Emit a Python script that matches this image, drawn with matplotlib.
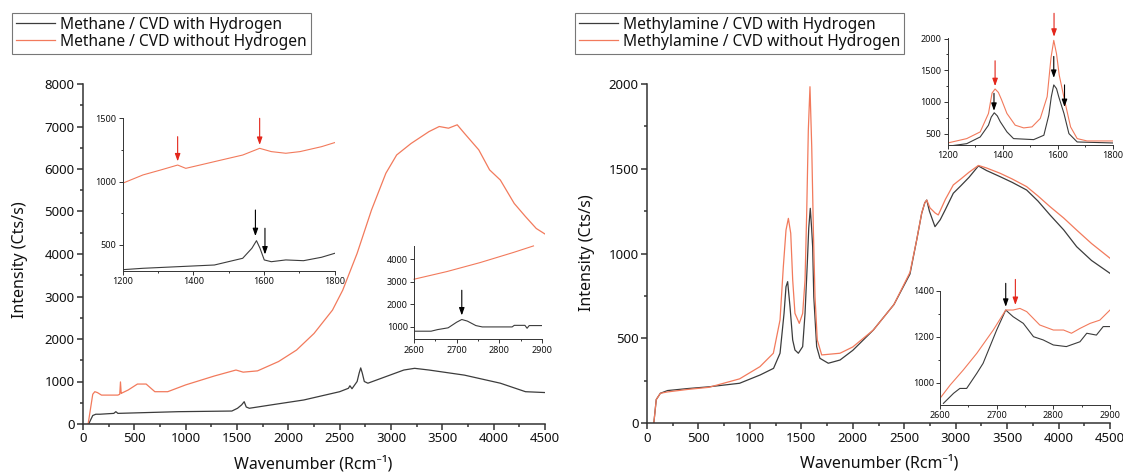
import matplotlib
matplotlib.use("Agg")
import matplotlib.pyplot as plt
from matplotlib.ticker import MultipleLocator

plt.rcParams["font.family"] = ["Noto Sans", "DejaVu Sans"]

BLACK = "#3c3c3c"
ORANGE = "#f27a5c"
RED = "#e3261b"
AXIS = "#333333"
TEXT = "#111111"

# ---- Methane, full spectrum ----
ch4_h_x = [55, 95, 125, 165, 300, 320, 340, 930, 1450, 1505, 1545, 1570, 1590, 1620,
           1835, 2150, 2500, 2585, 2600, 2620, 2670, 2690, 2705, 2720, 2740, 2775,
           2950, 3125, 3230, 3370, 3715, 4065, 4310, 4500]
ch4_h_y = [0, 200, 230, 230, 250, 290, 250, 290, 305, 370, 450, 525, 400, 370,
           450, 565, 760, 840, 900, 830, 1000, 1200, 1320, 1200, 1000, 960,
           1115, 1270, 1310, 1270, 1150, 960, 760, 740]
ch4_n_x = [50, 95, 115, 140, 180, 340, 358, 365, 372, 380, 440, 530, 615, 700, 825,
           1000, 1280, 1490, 1560, 1700, 1905, 2080, 2250, 2430, 2530, 2670, 2810,
           2950, 3055, 3195, 3370, 3470, 3560, 3645, 3715, 3855, 3960, 4065, 4200,
           4310, 4415, 4500]
ch4_n_y = [0, 700, 760, 740, 680, 680, 700, 990, 720, 730, 800, 940, 940, 760, 760,
           920, 1130, 1270, 1220, 1250, 1470, 1740, 2130, 2680, 3150, 4015, 5035,
           5900, 6330, 6600, 6880, 7000, 6960, 7040, 6840, 6450, 5980, 5740, 5190,
           4880, 4600, 4470]

# Methane insets (1200-1800 and 2600-2900)
ch4_i1_h_x = [1200, 1258, 1359, 1460, 1540, 1566, 1579, 1589, 1601, 1621, 1662, 1712, 1763, 1800]
ch4_i1_h_y = [305, 316, 329, 342, 395, 474, 534, 474, 382, 368, 382, 376, 403, 434]
ch4_i1_n_x = [1200, 1258, 1308, 1356, 1379, 1419, 1480, 1540, 1588, 1621, 1662, 1702, 1763, 1800]
ch4_i1_n_y = [987, 1053, 1092, 1131, 1105, 1131, 1171, 1210, 1263, 1237, 1224, 1237, 1276, 1308]
ch4_i2_h_x = [2600, 2640, 2655, 2680, 2700, 2712, 2725, 2745, 2760, 2830, 2835, 2860, 2865, 2870, 2900]
ch4_i2_h_y = [800, 800, 870, 950, 1200, 1320, 1250, 1050, 990, 990, 1060, 1060, 930, 1050, 1050]
ch4_i2_n_x = [2600, 2677, 2755, 2833, 2880]
ch4_i2_n_y = [3110, 3450, 3850, 4300, 4590]

# ---- Methylamine, full spectrum ----
mea_h_x = [66, 90, 130, 200, 400, 600, 900, 1100, 1230, 1293, 1332, 1351, 1367, 1390,
           1416, 1438, 1471, 1513, 1536, 1558, 1572, 1587, 1600, 1610, 1621, 1649,
           1681, 1762, 1876, 2000, 2200, 2400, 2556, 2621, 2670, 2700, 2719, 2745,
           2799, 2850, 2900, 2977, 3050, 3130, 3221, 3300, 3431, 3550, 3690, 3800,
           3917, 4050, 4176, 4320, 4500]
mea_h_y = [0, 140, 177, 193, 205, 215, 236, 285, 324, 413, 648, 805, 835, 687,
           491, 432, 413, 452, 648, 943, 1150, 1267, 1150, 1041, 746, 452,
           383, 354, 373, 430, 550, 700, 880, 1080, 1238, 1300, 1316, 1250,
           1159, 1200, 1260, 1356, 1400, 1450, 1517, 1490, 1454, 1420, 1375, 1310,
           1228, 1140, 1041, 960, 884]
mea_n_x = [66, 90, 130, 200, 400, 600, 900, 1098, 1228, 1293, 1325, 1351, 1374, 1397,
           1416, 1438, 1480, 1513, 1536, 1552, 1568, 1584, 1601, 1617, 1633, 1655,
           1698, 1876, 2000, 2200, 2400, 2556, 2621, 2670, 2700, 2719, 2750, 2800,
           2831, 2900, 2977, 3050, 3130, 3221, 3300, 3431, 3550, 3690, 3800, 3917,
           4050, 4176, 4320, 4500]
mea_n_y = [0, 140, 177, 185, 200, 212, 262, 334, 413, 609, 923, 1139, 1208, 1120,
           845, 648, 589, 648, 845, 1238, 1729, 1984, 1630, 1139, 746, 491,
           403, 413, 450, 550, 700, 890, 1080, 1240, 1300, 1316, 1270, 1240,
           1228, 1320, 1405, 1440, 1480, 1520, 1505, 1474, 1440, 1395, 1340, 1277,
           1210, 1139, 1060, 973]

# Methylamine insets
mea_i1_h_x = [1200, 1269, 1318, 1348, 1358, 1369, 1380, 1391, 1415, 1439, 1512, 1549,
              1567, 1576, 1585, 1595, 1603, 1622, 1640, 1670, 1800]
mea_i1_h_y = [300, 341, 447, 633, 760, 829, 780, 686, 527, 421, 405, 474,
              792, 1080, 1269, 1210, 1083, 818, 500, 368, 352]
mea_i1_n_x = [1200, 1269, 1318, 1348, 1361, 1372, 1384, 1395, 1415, 1445, 1476, 1506,
              1536, 1561, 1575, 1585, 1595, 1605, 1624, 1646, 1670, 1706, 1800]
mea_i1_n_y = [352, 421, 527, 818, 1140, 1205, 1150, 1040, 818, 633, 590, 606,
              739, 1083, 1700, 1973, 1760, 1420, 1030, 606, 421, 384, 384]
mea_i2_h_x = [2606, 2624, 2635, 2647, 2665, 2676, 2700, 2716, 2729, 2747, 2765, 2782,
              2800, 2823, 2847, 2859, 2876, 2888, 2900]
mea_i2_h_y = [910, 954, 975, 975, 1041, 1084, 1229, 1316, 1287, 1258, 1200, 1186,
              1164, 1157, 1178, 1215, 1207, 1244, 1244]
mea_i2_n_x = [2600, 2618, 2641, 2665, 2694, 2716, 2729, 2741, 2753, 2776, 2800, 2818,
              2832, 2847, 2865, 2882, 2900]
mea_i2_n_y = [932, 990, 1055, 1128, 1229, 1316, 1316, 1323, 1309, 1251, 1229, 1229,
              1215, 1236, 1258, 1272, 1316]

W, H = 1123, 474
fig = plt.figure(figsize=(W / 100, H / 100), dpi=100)


def box(x0, x1, y0, y1):
    # pixel box (top-left origin) -> figure fraction rect
    return [x0 / W, 1 - y1 / H, (x1 - x0) / W, (y1 - y0) / H]


def style(ax, size, major, minor, lw):
    ax.patch.set_alpha(0)
    for s in ["top", "right"]:
        ax.spines[s].set_visible(False)
    for s in ["left", "bottom"]:
        ax.spines[s].set_color(AXIS)
        ax.spines[s].set_linewidth(lw)
    ax.tick_params(which="major", direction="out", length=major, width=lw,
                   color=AXIS, labelsize=size, labelcolor=TEXT, pad=1.5)
    ax.tick_params(which="minor", direction="out", length=minor, width=lw, color=AXIS)


def arrow(ax, x, y_tail, y_tip, color):
    ax.annotate("", xy=(x, y_tip), xytext=(x, y_tail),
                arrowprops=dict(arrowstyle="-|>,head_length=0.45,head_width=0.16",
                                color=color, lw=0.8, shrinkA=0, shrinkB=0),
                annotation_clip=False)


def legend(handles, x0):
    leg = fig.legend(handles=handles, loc="upper left", bbox_to_anchor=(x0 / W, 1 - 13 / H),
                     borderaxespad=0, fontsize=11.2, frameon=True, fancybox=False,
                     edgecolor="#777777", framealpha=1, borderpad=0.25, labelspacing=0.05,
                     handlelength=2.5, handletextpad=0.35)
    leg.get_frame().set_linewidth(0.8)
    for t in leg.get_texts():
        t.set_color(TEXT)


# ---------------- left panel ----------------
ax1 = fig.add_axes(box(83, 545, 84, 424))
l1, = ax1.plot(ch4_h_x, ch4_h_y, color=BLACK, lw=0.9, label="Methane / CVD with Hydrogen")
l2, = ax1.plot(ch4_n_x, ch4_n_y, color=ORANGE, lw=0.9, label="Methane / CVD without Hydrogen")
ax1.set_xlim(0, 4500)
ax1.set_ylim(0, 8000)
ax1.xaxis.set_major_locator(MultipleLocator(500))
ax1.xaxis.set_minor_locator(MultipleLocator(250))
ax1.yaxis.set_major_locator(MultipleLocator(1000))
ax1.yaxis.set_minor_locator(MultipleLocator(500))
style(ax1, 9.5, 4.5, 2.3, 1.1)
legend([l1, l2], 12)

in1 = fig.add_axes(box(122.5, 334.6, 118.3, 270.7))
in1.plot(ch4_i1_h_x, ch4_i1_h_y, color=BLACK, lw=0.8)
in1.plot(ch4_i1_n_x, ch4_i1_n_y, color=ORANGE, lw=0.8)
in1.set_xlim(1200, 1800)
in1.set_ylim(297, 1500)
in1.xaxis.set_major_locator(MultipleLocator(200))
in1.xaxis.set_minor_locator(MultipleLocator(100))
in1.yaxis.set_major_locator(MultipleLocator(500))
in1.yaxis.set_minor_locator(MultipleLocator(250))
style(in1, 6.5, 3, 1.5, 0.7)
arrow(in1, 1356, 1355, 1160, RED)
arrow(in1, 1588, 1500, 1290, RED)
arrow(in1, 1576, 776, 570, "black")
arrow(in1, 1603, 632, 425, "black")

in2 = fig.add_axes(box(414, 542, 245.7, 339.3))
in2.plot(ch4_i2_h_x, ch4_i2_h_y, color=BLACK, lw=0.8)
in2.plot(ch4_i2_n_x, ch4_i2_n_y, color=ORANGE, lw=0.8, clip_on=False)
in2.set_xlim(2600, 2900)
in2.set_ylim(440, 4600)
in2.set_xticks([2600, 2700, 2800, 2900])
in2.set_yticks([1000, 2000, 3000, 4000])
in2.xaxis.set_minor_locator(MultipleLocator(50))
style(in2, 6.5, 3, 1.5, 0.7)
arrow(in2, 2712, 2620, 1500, "black")

fig.text(20 / W, 1 - 260 / H, "Intensity (Cts/s)", rotation=90, ha="center",
         va="center", fontsize=11.5, color=TEXT)
fig.text(313 / W, 1 - 464 / H, "Wavenumber (Rcm\u207b\u00b9)", ha="center",
         va="center", fontsize=11.5, color=TEXT)

# ---------------- right panel ----------------
ax2 = fig.add_axes(box(647, 1110, 84, 423.3))
r1, = ax2.plot(mea_h_x, mea_h_y, color=BLACK, lw=0.9, label="Methylamine / CVD with Hydrogen")
r2, = ax2.plot(mea_n_x, mea_n_y, color=ORANGE, lw=0.9, label="Methylamine / CVD without Hydrogen")
ax2.set_xlim(0, 4500)
ax2.set_ylim(0, 2000)
ax2.xaxis.set_major_locator(MultipleLocator(500))
ax2.xaxis.set_minor_locator(MultipleLocator(250))
ax2.yaxis.set_major_locator(MultipleLocator(500))
ax2.yaxis.set_minor_locator(MultipleLocator(250))
style(ax2, 9.5, 4.5, 2.3, 1.1)
legend([r1, r2], 575)

in3 = fig.add_axes(box(947.7, 1113, 38, 145))
in3.plot(mea_i1_h_x, mea_i1_h_y, color=BLACK, lw=0.8)
in3.plot(mea_i1_n_x, mea_i1_n_y, color=ORANGE, lw=0.8)
in3.set_xlim(1200, 1800)
in3.set_ylim(320, 2010)
in3.xaxis.set_major_locator(MultipleLocator(200))
in3.xaxis.set_minor_locator(MultipleLocator(100))
in3.yaxis.set_major_locator(MultipleLocator(500))
in3.yaxis.set_minor_locator(MultipleLocator(250))
style(in3, 6.5, 3, 1.5, 0.7)
arrow(in3, 1372, 1650, 1250, RED)
arrow(in3, 1586, 2400, 2030, RED)
arrow(in3, 1368, 1136, 860, "black")
arrow(in3, 1585, 1719, 1380, "black")
arrow(in3, 1624, 1269, 920, "black")

in4 = fig.add_axes(box(940, 1110, 290.7, 405))
in4.plot(mea_i2_h_x, mea_i2_h_y, color=BLACK, lw=0.8)
in4.plot(mea_i2_n_x, mea_i2_n_y, color=ORANGE, lw=0.8)
in4.set_xlim(2600, 2900)
in4.set_ylim(903, 1400)
in4.xaxis.set_major_locator(MultipleLocator(100))
in4.xaxis.set_minor_locator(MultipleLocator(50))
in4.set_yticks([1000, 1200, 1400])
in4.yaxis.set_minor_locator(MultipleLocator(100))
style(in4, 6.5, 3, 1.5, 0.7)
arrow(in4, 2716, 1432, 1330, "black")
arrow(in4, 2733, 1449, 1338, RED)

fig.text(587 / W, 1 - 253 / H, "Intensity (Cts/s)", rotation=90, ha="center",
         va="center", fontsize=11.5, color=TEXT)
fig.text(879 / W, 1 - 463 / H, "Wavenumber (Rcm\u207b\u00b9)", ha="center",
         va="center", fontsize=11.5, color=TEXT)

fig.savefig("out.png", dpi=100)
